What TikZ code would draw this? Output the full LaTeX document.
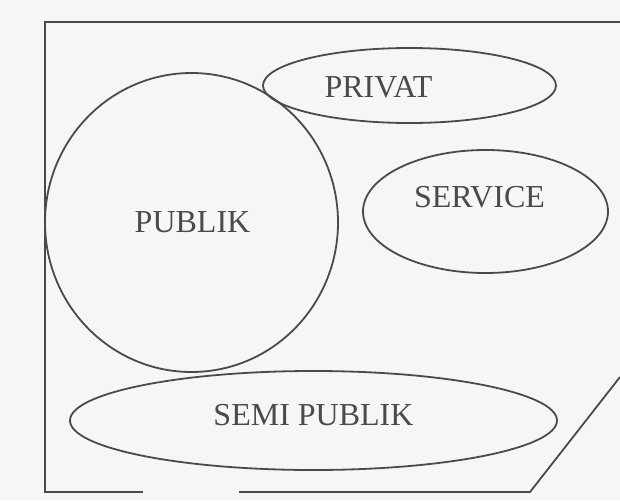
\documentclass[tikz,border=0pt]{standalone}
\usepackage{fontspec}
\setmainfont{Liberation Serif}
\usetikzlibrary{shapes.geometric}
\definecolor{ink}{HTML}{4A4A4A}
\definecolor{paper}{HTML}{F6F6F4}
\begin{document}
\begin{tikzpicture}[x=1pt,y=-1pt,
  zone/.style={draw=ink,line width=1.8pt,ellipse,inner sep=0pt},
  lbl/.style={text=ink,font=\fontsize{32}{36}\selectfont,anchor=base,inner sep=0pt},
  wall/.style={draw=ink,line width=1.8pt,line join=miter}]
\path[fill=paper,use as bounding box] (0,0) rectangle (620,500);
% outer boundary
\coordinate (tr) at (620,22);
\coordinate (tl) at (45,22);
\coordinate (bl) at (45,492);
\coordinate (g1) at (143,492);
\coordinate (g2) at (239,492);
\coordinate (br) at (530,492);
\coordinate (re) at (620,377);
\draw[wall] (tr) -- (tl) -- (bl) -- (g1);
\draw[wall] (g2) -- (br) -- (re);
% zones
\node[zone,minimum width=293pt,minimum height=299pt] (publik) at (191.5,222.5) {};
\node[zone,minimum width=293pt,minimum height=75pt] (privat) at (409.5,85.5) {};
\node[zone,minimum width=245pt,minimum height=123pt] (service) at (485.5,211.5) {};
\node[zone,minimum width=487pt,minimum height=99pt] (semi) at (313.5,420.5) {};
% labels
\node[lbl] (tpublik) at (192.5,232.5) {PUBLIK};
\node[lbl] (tprivat) at (378.5,98) {PRIVAT};
\node[lbl] (tservice) at (479.5,207) {SERVICE};
\node[lbl] (tsemi) at (313.5,425) {SEMI PUBLIK};
\end{tikzpicture}
\end{document}
